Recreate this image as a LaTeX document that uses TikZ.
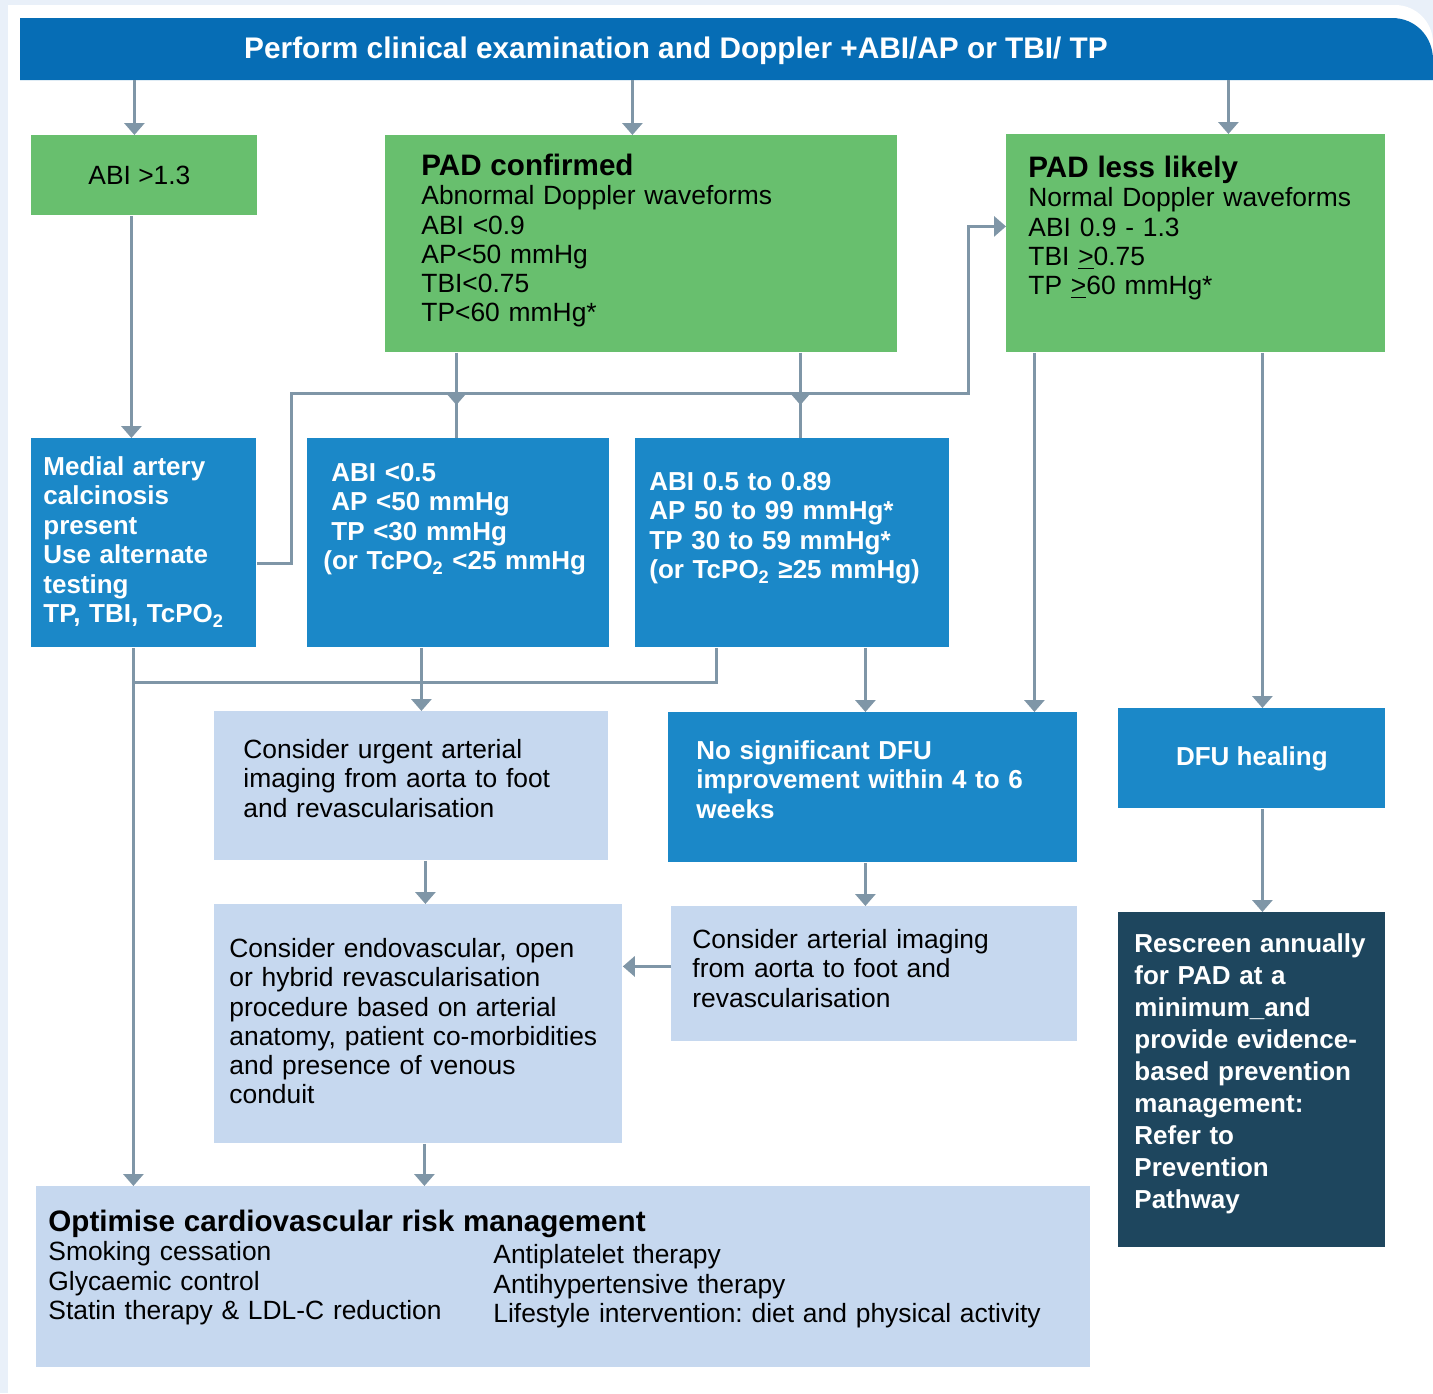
\documentclass[tikz,border=0pt]{standalone}
\usepackage{fontspec}
\setmainfont{Liberation Sans}
\usetikzlibrary{arrows.meta}
\definecolor{pageblue}{HTML}{E9F0F9}
\definecolor{barblue}{HTML}{066DB5}
\definecolor{padgreen}{HTML}{68BF6E}
\definecolor{boxblue}{HTML}{1B88C8}
\definecolor{paleblue}{HTML}{C6D8EF}
\definecolor{darknavy}{HTML}{1E465E}
\definecolor{linegray}{HTML}{7F96A7}
\frenchspacing
\newcommand{\bodyfont}{\fontsize{13.2pt}{14.65pt}\selectfont}
\newcommand{\boxbold}{\fontsize{13pt}{14.75pt}\selectfont\bfseries}
\newcommand{\headfont}{\fontsize{14.8pt}{14.65pt}\selectfont\bfseries}
\tikzstyle{greenbox} = [rectangle, fill=padgreen, text=black, inner ysep=0pt, anchor=north west, align=left, font=\bodyfont]
\tikzstyle{bluebox} = [rectangle, fill=boxblue, text=white, inner ysep=0pt, anchor=north west, align=left, font=\boxbold]
\tikzstyle{palebox} = [rectangle, fill=paleblue, text=black, inner ysep=0pt, anchor=north west, align=left, font=\bodyfont]
\tikzstyle{darkbox} = [rectangle, fill=darknavy, text=white, inner ysep=0pt, anchor=north west, align=left, font={\fontsize{13pt}{16pt}\selectfont\bfseries}]
\tikzstyle{line} = [line width=1.5pt, draw=linegray]
\tikzstyle{arrow} = [line, -{Triangle[width=10pt,length=6pt]}]

\begin{document}
\begin{tikzpicture}[x=0.5pt, y=-0.5pt]
  \useasboundingbox (0,0) rectangle (1433,1393);
  % page and header bar
  \fill[pageblue] (0,0) rectangle (1433,1393);
  \fill[white] (8,5) -- (1395,5) .. controls (1416,5) and (1433,22) .. (1433,43) -- (1433,1393) -- (8,1393) -- cycle;
  \fill[barblue] (20,18) -- (1392,18) .. controls (1415,18) and (1433,36) .. (1433,60) -- (1433,80) -- (20,80) -- cycle;
  \node (top) [minimum width=656pt, minimum height=28pt, inner sep=0pt, text=white, font={\fontsize{14.9pt}{16pt}\selectfont\bfseries}] at (676,52) {\strut Perform clinical examination and Doppler +ABI/AP or TBI/ TP};

  % first row
  \node (abi13) [greenbox, align=center, inner sep=0pt, minimum width=113pt, minimum height=40pt] at (31,135) {\hspace*{-5pt}ABI >1.3};
  \node (padc) [greenbox, inner xsep=18pt, text width=220pt, text height=20pt, text depth=88.5pt] at (385,135) {{\headfont PAD confirmed}\\Abnormal Doppler waveforms\\ABI <0.9\\AP<50 mmHg\\TBI<0.75\\TP<60 mmHg*};
  \node (padl) [greenbox, inner xsep=11pt, text width=167.5pt, text height=21.5pt, text depth=87.5pt] at (1006,134) {{\headfont PAD less likely}\\Normal Doppler waveforms\\ABI 0.9 - 1.3\\TBI \underline{>}0.75\\TP \underline{>}60 mmHg*};

  % second row
  \node (medial) [bluebox, inner xsep=6pt, text width=100.5pt, text height=18.5pt, text depth=86pt] at (31,438) {Medial artery\\calcinosis\\present\\Use alternate\\testing\\TP, TBI, TcPO\textsubscript{2}};
  \node (abilow) [bluebox, inner xsep=8pt, text width=135pt, text height=21.5pt, text depth=83pt] at (307,438) {\hspace*{4pt}ABI <0.5\\\hspace*{4pt}AP <50 mmHg\\\hspace*{4pt}TP <30 mmHg\\(or TcPO\textsubscript{2} <25 mmHg};
  \node (abimid) [bluebox, inner xsep=7pt, text width=143pt, text height=26pt, text depth=78.5pt] at (635,438) {ABI 0.5 to 0.89\\AP 50 to 99 mmHg*\\TP 30 to 59 mmHg*\\(or TcPO\textsubscript{2} ≥25 mmHg)};

  % third row
  \node (urgent) [palebox, inner xsep=14.5pt, text width=168pt, text height=23.5pt, text depth=51pt] at (214,711) {Consider urgent arterial\\imaging from aorta to foot\\and revascularisation};
  \node (nosig) [bluebox, inner xsep=14pt, text width=176.5pt, text height=23.5pt, text depth=51.5pt] at (668,712) {No significant DFU\\improvement within 4 to 6\\weeks};
  \node (healing) [bluebox, align=center, inner sep=0pt, minimum width=133.5pt, minimum height=50pt] at (1118,708) {DFU healing};

  % fourth row
  \node (endo) [palebox, inner xsep=7.5pt, text width=189pt, text height=26.5pt, text depth=93pt] at (214,904) {Consider endovascular, open\\or hybrid revascularisation\\procedure based on arterial\\anatomy, patient co-morbidities\\and presence of venous\\conduit};
  \node (arterial) [palebox, inner xsep=10.5pt, text width=182pt, text height=21pt, text depth=46.5pt] at (671,906) {Consider arterial imaging\\from aorta to foot and\\revascularisation};
  \node (rescreen) [darkbox, inner xsep=8pt, text width=117.5pt, text height=20pt, text depth=147.5pt] at (1118,912) {Rescreen annually\\for PAD at a\\minimum\_and\\provide evidence-\\based prevention\\management:\\Refer to\\Prevention\\Pathway};

  % bottom
  \node (optim) [palebox, inner xsep=6pt, text width=515pt, text height=22.5pt, text depth=68pt] at (36,1186) {{\headfont Optimise cardiovascular risk management}\\\makebox[222.5pt][l]{Smoking cessation}\raisebox{-1.5pt}{Antiplatelet therapy}\\\makebox[222.5pt][l]{Glycaemic control}\raisebox{-1.5pt}{Antihypertensive therapy}\\\makebox[222.5pt][l]{Statin therapy \& LDL-C reduction}\raisebox{-1.5pt}{Lifestyle intervention: diet and physical activity}};

  \coordinate (busw) at (291,393);
  \coordinate (buse) at (968,393);
  \coordinate (lowbus) at (133,682);
  \coordinate (barbase) at (20,80);

  \draw [arrow] ([xshift=-5pt]abi13.north |- barbase) -- ([xshift=-5pt]abi13.north);
  \draw [arrow] ([xshift=-4.5pt]padc.north |- barbase) -- ([xshift=-4.5pt]padc.north);
  \draw [arrow] ([xshift=16.25pt]padl.north |- barbase) -- ([xshift=16.25pt]padl.north);
  \draw [arrow] ([xshift=-6.5pt]abi13.south) -- ([xshift=-6.5pt]abi13.south |- medial.north);
  \draw [arrow] ([yshift=-10.25pt]medial.east) -| (busw) -- (buse) |- ([yshift=8.5pt]padl.west);
  \draw [line] ([xshift=-92.5pt]padc.south) -- ([xshift=-92.5pt]padc.south |- abilow.north);
  \draw [arrow] ([xshift=-92.5pt]padc.south) -- ([xshift=-92.5pt,yshift=-6pt]padc.south |- busw);
  \draw [line] ([xshift=79.5pt]padc.south) -- ([xshift=79.5pt]padc.south |- abimid.north);
  \draw [arrow] ([xshift=79.5pt]padc.south) -- ([xshift=79.5pt,yshift=-6pt]padc.south |- busw);
  \draw [line] ([xshift=-38pt]abimid.south) |- (lowbus);
  \draw [arrow] ([xshift=-18.5pt]abilow.south) -- ([xshift=-18.5pt]abilow.south |- urgent.north);
  \draw [arrow] ([xshift=-5.25pt]medial.south) -- ([xshift=-5.25pt]medial.south |- optim.north);
  \draw [arrow] ([xshift=36.5pt]abimid.south) -- ([xshift=36.5pt]abimid.south |- nosig.north);
  \draw [arrow] ([xshift=-80.75pt]padl.south) -- ([xshift=-80.75pt]padl.south |- nosig.north);
  \draw [arrow] ([xshift=33.25pt]padl.south) -- ([xshift=33.25pt]padl.south |- healing.north);
  \draw [arrow] ([xshift=7pt]urgent.south) -- ([xshift=7pt]urgent.south |- endo.north);
  \draw [arrow] ([xshift=-3.75pt]nosig.south) -- ([xshift=-3.75pt]nosig.south |- arterial.north);
  \draw [arrow] ([yshift=3.75pt]arterial.west) -- ([yshift=3.75pt]arterial.west -| endo.east);
  \draw [arrow] ([xshift=3pt]endo.south) -- ([xshift=3pt]endo.south |- optim.north);
  \draw [arrow] ([xshift=5.25pt]healing.south) -- ([xshift=5.25pt]healing.south |- rescreen.north);
\end{tikzpicture}
\end{document}
